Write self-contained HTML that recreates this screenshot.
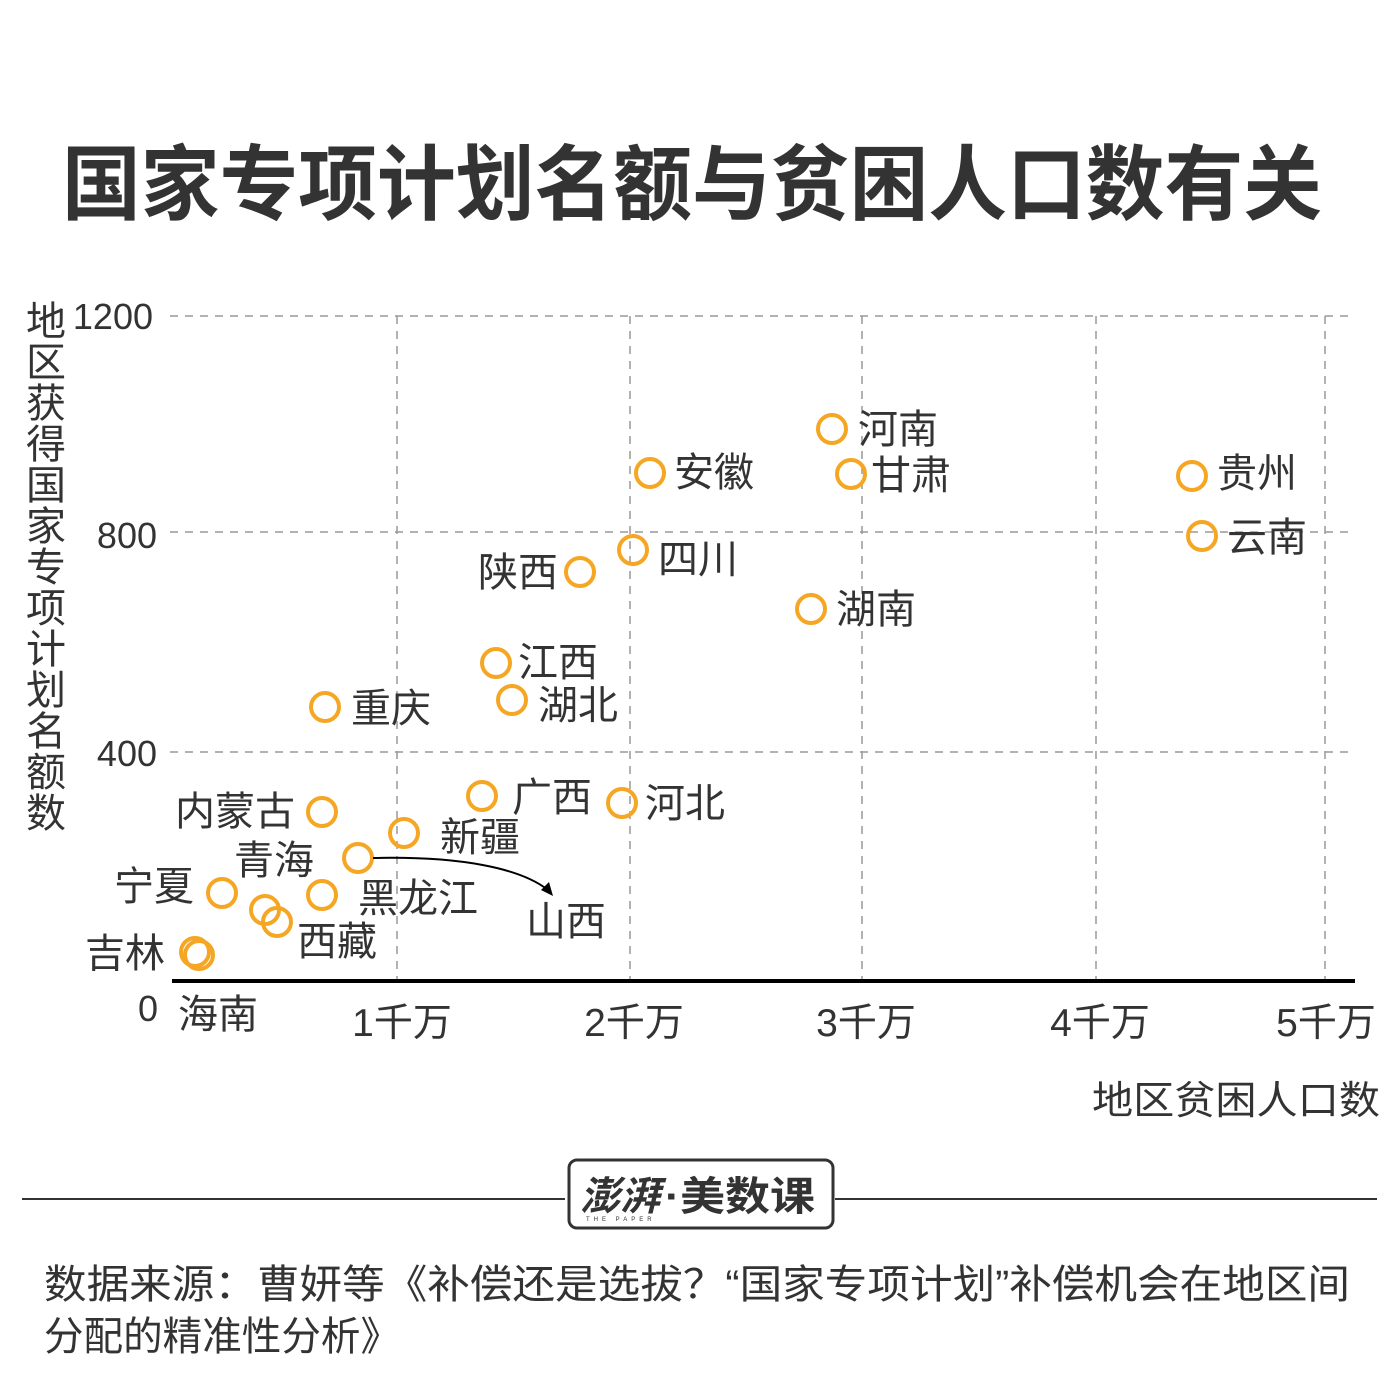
<!DOCTYPE html>
<html><head><meta charset="utf-8"><style>
body{margin:0;background:#fff}
svg text{font-family:"Liberation Sans","Noto Sans CJK SC",sans-serif;fill:#333}
</style></head><body>
<svg width="1397" height="1386" viewBox="0 0 1397 1386" xmlns="http://www.w3.org/2000/svg">
<text x="62" y="213" font-size="82" font-weight="bold" textLength="1260" lengthAdjust="spacingAndGlyphs" fill="#333">国家专项计划名额与贫困人口数有关</text>
<g stroke="#999" stroke-width="1.5" stroke-dasharray="8,7" fill="none">
<line x1="170" y1="316" x2="1352" y2="316"/><line x1="170" y1="532" x2="1352" y2="532"/><line x1="170" y1="752" x2="1352" y2="752"/>
<line x1="397" y1="316" x2="397" y2="980"/><line x1="630" y1="316" x2="630" y2="980"/><line x1="862" y1="316" x2="862" y2="980"/><line x1="1096" y1="316" x2="1096" y2="980"/><line x1="1325" y1="316" x2="1325" y2="980"/>
</g>
<line x1="172" y1="981" x2="1355" y2="981" stroke="#000" stroke-width="4"/>
<g font-size="36" text-anchor="end">
<text x="153" y="329">1200</text><text x="157" y="548">800</text><text x="157" y="766">400</text><text x="158" y="1021">0</text></g>
<g font-size="39" text-anchor="middle">
<text x="402" y="1036">1千万</text><text x="634" y="1036">2千万</text><text x="866" y="1036">3千万</text><text x="1100" y="1036">4千万</text><text x="1326" y="1036">5千万</text></g>
<text x="1380" y="1114" font-size="39" text-anchor="end" textLength="288" lengthAdjust="spacingAndGlyphs">地区贫困人口数</text>
<text x="42" y="300" font-size="40" writing-mode="tb" style="writing-mode:tb" letter-spacing="1">地区获得国家专项计划名额数</text>
<g fill="none" stroke="#F5A623" stroke-width="4">
<circle cx="832" cy="429" r="14"/><circle cx="851" cy="474" r="14"/><circle cx="650" cy="473" r="14"/><circle cx="1192" cy="476" r="14"/><circle cx="1202" cy="536" r="14"/><circle cx="633" cy="550" r="14"/><circle cx="580" cy="572" r="14"/><circle cx="811" cy="609" r="14"/><circle cx="496" cy="663" r="14"/><circle cx="512" cy="700" r="14"/><circle cx="325" cy="707" r="14"/><circle cx="482" cy="796" r="14"/><circle cx="622" cy="803" r="14"/><circle cx="322" cy="812" r="14"/><circle cx="404" cy="833" r="14"/><circle cx="358" cy="858" r="14"/><circle cx="222" cy="893" r="14"/><circle cx="322" cy="895" r="14"/><circle cx="265" cy="910" r="14"/><circle cx="277" cy="922" r="14"/><circle cx="195" cy="952" r="14"/><circle cx="199" cy="955" r="14"/>
</g>
<path d="M373 858 C460 856 520 868 548 890" fill="none" stroke="#000" stroke-width="2"/>
<path d="M553 896 L541 890 L549 882 Z" fill="#000"/>
<g font-size="40">
<text x="858" y="443">河南</text><text x="871" y="489">甘肃</text><text x="674" y="486">安徽</text><text x="1217" y="487">贵州</text><text x="1227" y="551">云南</text><text x="478" y="586">陕西</text><text x="658" y="573">四川</text><text x="836" y="623">湖南</text><text x="518" y="676">江西</text><text x="538" y="719">湖北</text><text x="351" y="722">重庆</text><text x="512" y="811">广西</text><text x="645" y="817">河北</text><text x="175" y="825">内蒙古</text><text x="440" y="851">新疆</text><text x="234" y="874">青海</text><text x="114" y="900">宁夏</text><text x="358" y="912">黑龙江</text><text x="526" y="935">山西</text><text x="297" y="955">西藏</text><text x="85" y="967">吉林</text><text x="178" y="1028">海南</text>
</g>
<line x1="22" y1="1199" x2="565" y2="1199" stroke="#333" stroke-width="2"/>
<line x1="835" y1="1199" x2="1377" y2="1199" stroke="#333" stroke-width="2"/>
<rect x="569" y="1160" width="264" height="68" rx="8" fill="#fff" stroke="#333" stroke-width="3"/>
<text x="580" y="1210" font-size="40" font-style="italic" font-weight="bold" fill="#222">澎湃</text>
<text x="665" y="1210" font-size="40" font-weight="bold" fill="#222" textLength="150" lengthAdjust="spacingAndGlyphs">·美数课</text>
<text x="586" y="1221" font-size="6" fill="#222" letter-spacing="4">THE PAPER</text>
<g font-size="40" fill="#888">
<text x="44" y="1298" fill="#888" textLength="1306" lengthAdjust="spacingAndGlyphs">数据来源：曹妍等《补偿还是选拔？“国家专项计划”补偿机会在地区间</text>
<text x="44" y="1350" fill="#888" textLength="356" lengthAdjust="spacingAndGlyphs">分配的精准性分析》</text></g>
</svg>
</body></html>
